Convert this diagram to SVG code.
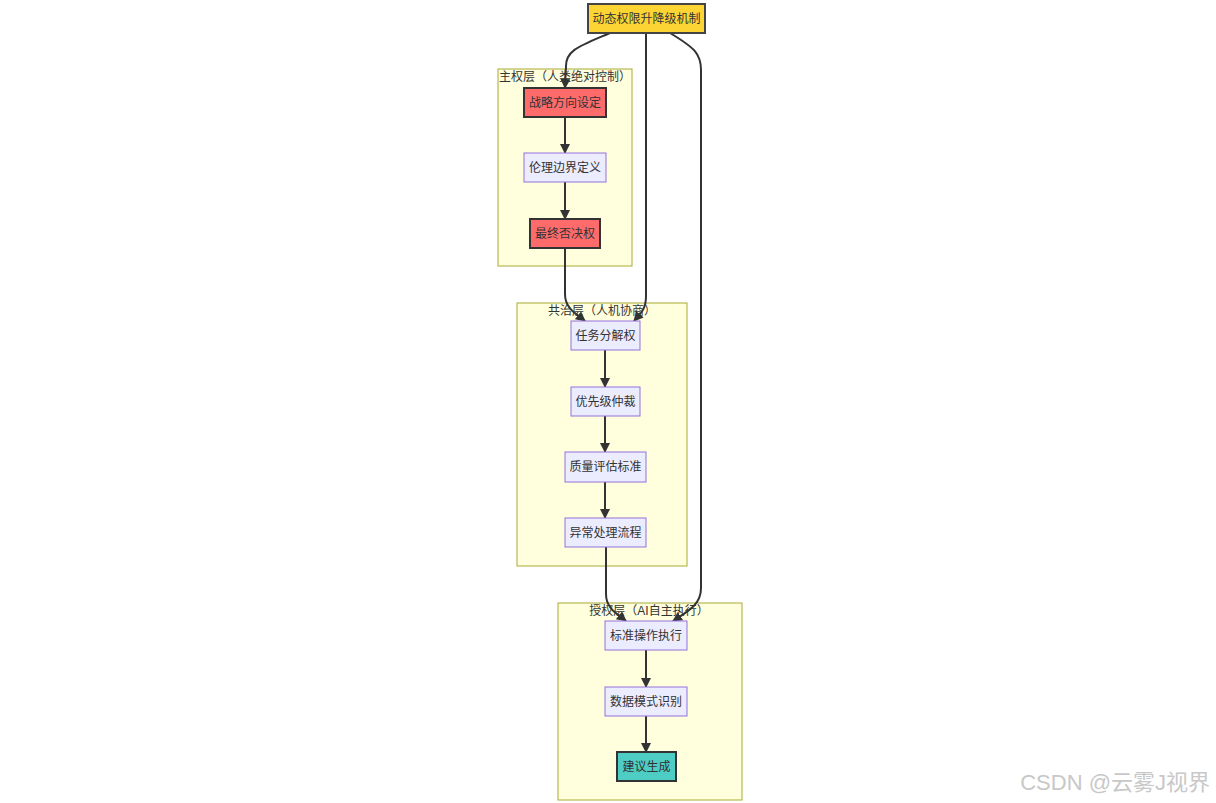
<svg xmlns="http://www.w3.org/2000/svg" width="1216" height="803" viewBox="0 0 1216 803">
  <style>
    text { font-family: "Liberation Sans", "Noto Sans CJK SC", sans-serif; font-size: 12px; fill: #333; }
    .cluster { fill: #ffffde; stroke: #aaaa33; stroke-width: 1; }
    .node { fill: #ececff; stroke: #9370db; stroke-width: 1; }
    .red { fill: #ff6b6b; stroke: #333; stroke-width: 2; }
    .gold { fill: #fcd535; stroke: #444; stroke-width: 2; }
    .teal { fill: #4ecdc4; stroke: #333; stroke-width: 2; }
    .edge { fill: none; stroke: #333; stroke-width: 2; }
    .label { text-anchor: middle; dominant-baseline: central; }
    .title { text-anchor: middle; dominant-baseline: central; }
  </style>
  <defs>
    <marker id="arrow" viewBox="0 0 10 10" refX="9" refY="5" markerWidth="10" markerHeight="10" markerUnits="userSpaceOnUse" orient="auto">
      <path d="M0,0 L10,5 L0,10 z" fill="#333"/>
    </marker>
  </defs>
  <rect width="1216" height="803" fill="#ffffff"/>

  <!-- layer containers -->
  <g id="layer-master">
    <rect class="cluster" x="498" y="69" width="134" height="197"/>
    <text class="title" x="565" y="77">主权层（人类绝对控制）</text>
  </g>
  <g id="layer-shared">
    <rect class="cluster" x="517" y="303" width="170" height="263"/>
    <text class="title" x="602" y="311">共治层（人机协商）</text>
  </g>
  <g id="layer-delegated">
    <rect class="cluster" x="558" y="603" width="184" height="197"/>
    <text class="title" x="649" y="611">授权层（AI自主执行）</text>
  </g>

  <!-- connectors -->
  <g id="edges">
    <path class="edge" marker-end="url(#arrow)" d="M610,33 C580,46 566,50 566,66 L565,88"/>
    <path class="edge" marker-end="url(#arrow)" d="M646,33 L646,296 C646,310 640,314 634,321"/>
    <path class="edge" marker-end="url(#arrow)" d="M670,33 C695,48 701,54 701,70 L701,588 C701,604 690,610 673,621"/>
    <path class="edge" marker-end="url(#arrow)" d="M565,117 L565,153"/>
    <path class="edge" marker-end="url(#arrow)" d="M565,182 L565,219"/>
    <path class="edge" marker-end="url(#arrow)" d="M565,248 L565,294 C565,308 575,313 585,321"/>
    <path class="edge" marker-end="url(#arrow)" d="M605,350 L605,387"/>
    <path class="edge" marker-end="url(#arrow)" d="M605,416 L605,452"/>
    <path class="edge" marker-end="url(#arrow)" d="M605,482 L605,518"/>
    <path class="edge" marker-end="url(#arrow)" d="M606,547 L606,594 C606,608 616,613 626,621"/>
    <path class="edge" marker-end="url(#arrow)" d="M646,650 L646,687"/>
    <path class="edge" marker-end="url(#arrow)" d="M646,716 L646,752"/>
  </g>

  <!-- nodes -->
  <g id="n-root">
    <rect class="gold" x="588" y="4" width="117" height="29"/>
    <text class="label" x="646.5" y="18.5">动态权限升降级机制</text>
  </g>
  <g id="n-strategy">
    <rect class="red" x="524" y="88" width="82" height="29"/>
    <text class="label" x="565" y="102.5">战略方向设定</text>
  </g>
  <g id="n-ethics">
    <rect class="node" x="524" y="153" width="82" height="29"/>
    <text class="label" x="565" y="167.5">伦理边界定义</text>
  </g>
  <g id="n-veto">
    <rect class="red" x="530" y="219" width="70" height="29"/>
    <text class="label" x="565" y="233.5">最终否决权</text>
  </g>
  <g id="n-decompose">
    <rect class="node" x="571" y="321" width="69" height="29"/>
    <text class="label" x="605.5" y="335.5">任务分解权</text>
  </g>
  <g id="n-priority">
    <rect class="node" x="571" y="387" width="69" height="29"/>
    <text class="label" x="605.5" y="401.5">优先级仲裁</text>
  </g>
  <g id="n-quality">
    <rect class="node" x="565" y="452" width="81" height="30"/>
    <text class="label" x="605.5" y="467">质量评估标准</text>
  </g>
  <g id="n-exception">
    <rect class="node" x="565" y="518" width="81" height="29"/>
    <text class="label" x="605.5" y="532.5">异常处理流程</text>
  </g>
  <g id="n-standard-ops">
    <rect class="node" x="605" y="621" width="82" height="29"/>
    <text class="label" x="646" y="635.5">标准操作执行</text>
  </g>
  <g id="n-pattern">
    <rect class="node" x="605" y="687" width="82" height="29"/>
    <text class="label" x="646" y="701.5">数据模式识别</text>
  </g>
  <g id="n-suggest">
    <rect class="teal" x="617" y="752" width="59" height="29"/>
    <text class="label" x="646.5" y="766.5">建议生成</text>
  </g>

  <!-- watermark -->
  <text x="1210" y="790" style="font-size:22px; fill:#c8c8c8; text-anchor:end;">CSDN @云雾J视界</text>
</svg>
